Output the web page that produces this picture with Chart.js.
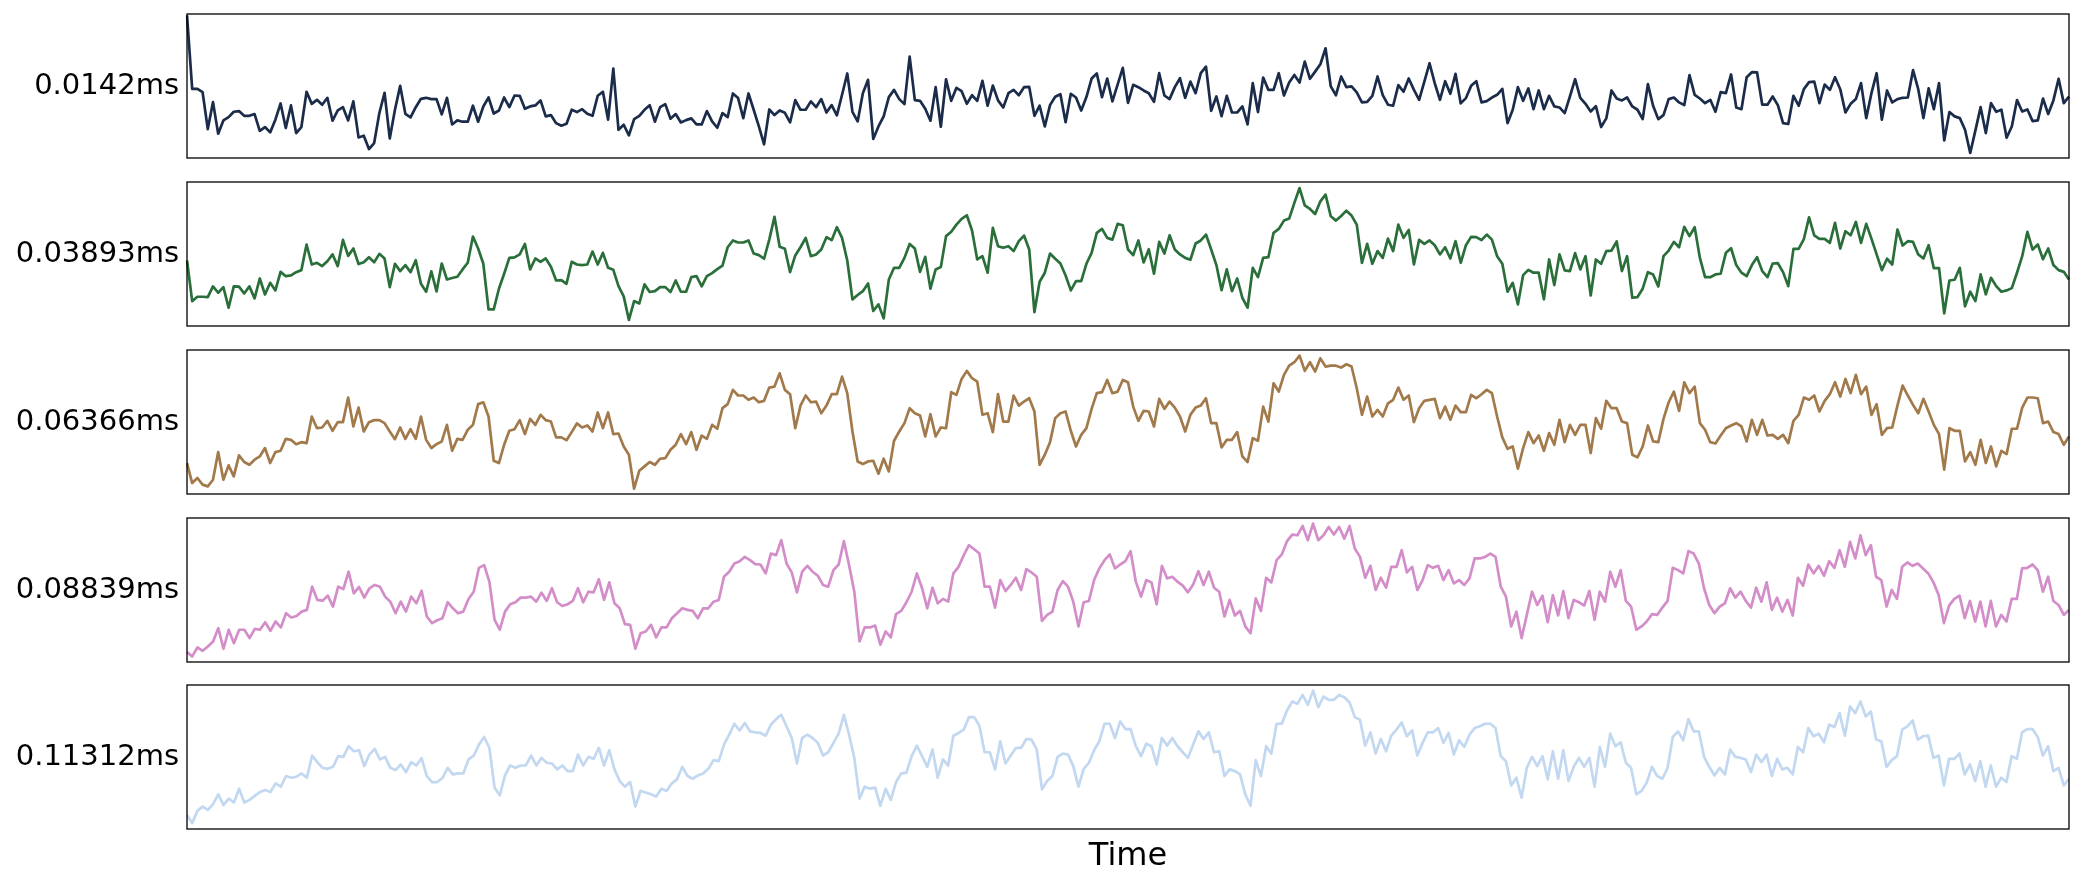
<!DOCTYPE html>
<html>
<head>
<meta charset="utf-8">
<script src="https://cdn.jsdelivr.net/npm/chart.js@4.4.1/dist/chart.umd.min.js"></script>
<style>
  html, body { margin: 0; padding: 0; background: #fff; }
  #wrap { position: relative; width: 2085px; height: 887px; overflow: hidden; }
  #wrap canvas { position: absolute; left: 0; }
</style>
</head>
<body>
<div id="wrap"></div>
<script>
// labels of each panel (time scale of the filter)
const scaleLabels = ["0.0142ms", "0.03893ms", "0.06366ms", "0.08839ms", "0.11312ms"];
const lineColors = ["#1b2b4a", "#2a6f3a", "#a2794a", "#d38dc9", "#c2d8f1"];
const xTitle = "Time";

// values (relative amplitude per panel)
const p1 = [
  99, 48.0, 48.0, 45.7, 20.1, 38.8, 16.9, 26.1, 28.4, 32.1, 32.6, 29.3, 29.3, 30.5, 18.9, 21.5, 17.8, 26.6, 37.9, 20.8,
  36.5, 17.3, 21.5, 46.0, 37.6, 40.4, 37.0, 41.8, 25.9, 33.0, 35.3, 26.1, 39.3, 14.3, 15.5, 6.2, 10.4, 31.2, 45.3, 13.6,
  33.5, 50.1, 30.7, 28.2, 35.3, 41.1, 41.8, 40.9, 40.9, 30.3, 41.8, 23.3, 26.1, 25.2, 25.2, 36.3, 25.2, 35.8, 42.0, 30.9,
  33.0, 42.0, 35.3, 43.4, 43.2, 34.2, 35.8, 36.5, 40.0, 28.9, 29.8, 24.2, 22.4, 23.8, 33.5, 31.9, 33.9, 30.7, 29.3, 43.2,
  46.0, 26.6, 62.1, 19.6, 23.1, 15.7, 27.0, 29.3, 33.5, 36.7, 25.2, 35.3, 37.4, 27.3, 30.5, 24.7, 26.3, 27.5, 23.3, 23.3,
  32.6, 25.4, 21.0, 31.2, 28.4, 44.8, 41.6, 27.7, 44.8, 33.5, 21.9, 9.5, 33.7, 29.8, 33.0, 31.4, 24.7, 40.2, 33.5, 33.5,
  39.3, 35.3,
  40.9, 31.6, 36.7, 29.6, 43.9, 58.7, 32.1, 25.4, 45.0, 54.3, 13.2, 21.9, 28.9, 42.3, 47.3, 40.9, 37.4, 70.4, 40.2, 39.7,
  34.2, 25.9, 49.2, 21.7, 54.7, 39.7, 48.7, 46.4, 37.6, 43.6, 39.7, 53.6, 36.3, 50.3, 40.0, 35.1, 45.0, 47.3, 43.6, 49.2,
  49.4, 29.3, 36.3, 21.9, 36.7, 42.5, 44.3, 24.9, 44.6, 42.0, 33.0, 42.3, 55.2, 58.7, 42.3, 55.2, 39.3, 51.0, 62.6, 38.3,
  50.8, 49.2, 46.9, 45.0, 39.0, 58.9, 43.4, 40.9, 49.2, 55.4, 41.8, 53.1, 45.0, 58.9, 63.5, 32.8, 42.7, 29.1, 43.2, 31.6,
  31.6, 35.8, 23.3, 52.0, 31.9, 55.9, 47.3, 47.3, 58.9, 43.4, 52.4, 57.7, 52.4, 67.0, 55.0, 60.0, 65.1, 76.2, 49.7, 43.6,
  56.6, 49.2, 49.7, 45.5, 38.6, 39.0, 43.2, 56.6, 43.6, 37.0, 36.3, 50.6, 46.0, 55.2, 47.3, 40.4, 53.1, 65.8, 52.0, 40.4,
  53.3,
  44.6, 58.4, 37.9, 41.6, 50.1, 53.3, 38.6, 39.5, 42.0, 43.9, 48.0, 24.2, 33.5, 49.2, 39.7, 48.3, 33.9, 46.9, 33.9, 43.2,
  35.8, 35.1, 31.2, 42.7, 54.7, 41.8, 37.6, 32.3, 36.0, 21.5, 27.5, 46.9, 41.3, 40.0, 42.0, 35.8, 33.5, 27.0, 51.3, 36.3,
  27.0, 29.8, 40.9, 42.0, 38.6, 36.7, 57.5, 43.9, 41.3, 38.1, 40.4, 32.1, 45.7, 45.0, 58.0, 35.1, 33.9, 56.1, 59.6, 59.4,
  37.0, 37.0, 42.7, 36.7, 24.2, 23.6, 43.2, 36.3, 47.8, 52.7, 53.1, 38.1, 51.0, 47.3, 56.1, 47.8, 31.6, 37.6, 40.9, 52.0,
  27.7, 45.0, 58.9, 26.6, 46.9, 38.6, 40.9, 41.8, 42.0, 61.0, 47.8, 27.7, 48.3, 33.9, 52.0, 12.2, 31.9, 28.9, 27.7, 19.6,
  3.5, 19.2, 35.3, 17.3, 38.1, 32.1, 33.5, 14.1, 21.9, 40.2, 32.3, 33.7, 25.6, 26.1, 41.3, 30.5, 40.0, 55.0, 38.1, 42.7
];

const p2 = [
  45.5, 17.3, 20.3, 20.3, 20.1, 27.5, 23.1, 27.0, 12.7, 27.5, 27.3, 22.6, 27.5, 19.2, 33.0, 21.9, 30.0, 24.7, 37.6, 34.6,
  35.1, 37.4, 38.8, 56.6, 42.7, 43.9, 41.6, 45.0, 49.7, 41.6, 59.8, 48.7, 53.8, 43.0, 44.3, 47.8, 44.3, 50.1, 46.9, 27.0,
  43.2, 38.1, 42.3, 37.4, 45.7, 29.3, 23.8, 37.9, 24.0, 43.4, 32.3, 33.3, 34.2, 39.3, 43.9, 62.1, 53.8, 43.2, 11.5, 11.5,
  25.9, 36.3, 47.3, 47.6, 49.7, 57.0, 39.3, 46.9, 44.6, 46.9, 41.1, 31.6, 31.9, 29.3, 44.6, 42.7, 42.3, 42.7, 51.7, 42.7,
  50.8, 40.4, 39.0, 27.7, 20.6, 4.2, 17.3, 15.7, 28.9, 23.6, 24.2, 27.0, 27.0, 23.6, 31.6, 23.8, 23.8, 33.9, 34.6, 27.5,
  34.6, 36.7, 39.5, 42.0, 54.7, 59.4, 58.0, 58.0, 59.4, 50.3, 49.2, 46.7, 60.0, 75.8, 55.0, 53.6, 37.4, 49.0, 54.7, 61.2,
  48.5, 49.7,
  53.1, 61.7, 59.6, 68.6, 61.2, 45.5, 18.5, 21.5, 24.2, 29.6, 10.4, 15.0, 5.3, 32.3, 40.4, 40.4, 47.3, 57.0, 53.8, 37.6,
  48.0, 25.9, 39.3, 40.9, 62.4, 65.4, 70.4, 74.4, 76.9, 66.3, 46.2, 48.5, 37.0, 68.1, 55.4, 54.3, 55.4, 52.0, 58.9, 62.8,
  53.1, 9.7, 30.7, 37.0, 50.3, 46.7, 43.4, 35.1, 24.7, 31.2, 31.2, 43.2, 50.8, 64.7, 67.4, 61.2, 60.0, 70.9, 70.0, 53.1,
  49.2, 59.4, 44.1, 53.3, 36.3, 58.4, 50.3, 63.0, 53.1, 49.7, 47.3, 46.0, 57.3, 59.4, 63.5, 53.1, 42.3, 24.9, 39.3, 24.2,
  33.0, 19.6, 12.7, 40.4, 33.9, 47.3, 47.8, 64.7, 67.4, 73.2, 74.6, 85.5, 95.8, 83.8, 81.3, 77.8, 86.6, 91.2, 76.2, 73.2,
  76.4, 80.1, 76.7, 70.4, 43.9, 57.0, 43.2, 52.0, 47.3, 60.7, 52.0, 70.4, 61.2, 66.7, 42.7, 59.8, 57.0, 59.4, 56.1, 49.7,
  54.7,
  46.9, 58.9, 43.9, 56.1, 61.9, 61.7, 59.6, 63.5, 60.0, 48.5, 43.2, 23.8, 30.0, 15.0, 35.3, 39.0, 37.0, 37.0, 18.5, 46.2,
  28.4, 49.7, 38.6, 38.1, 50.6, 39.3, 48.5, 21.2, 46.2, 43.2, 52.0, 52.4, 58.7, 38.1, 48.5, 19.6, 20.1, 25.9, 37.4, 35.8,
  27.5, 48.5, 52.4, 58.4, 54.7, 68.8, 62.4, 68.6, 47.3, 33.9, 33.9, 35.8, 36.3, 50.8, 54.0, 42.3, 37.0, 34.6, 42.3, 47.8,
  38.1, 33.9, 43.4, 43.6, 37.4, 27.7, 53.6, 53.6, 60.3, 75.5, 63.0, 60.5, 60.5, 57.7, 71.6, 53.8, 65.8, 63.0, 72.3, 57.7,
  70.9, 60.7, 49.7, 38.8, 46.7, 42.7, 67.0, 55.9, 58.9, 58.4, 49.7, 46.9, 56.1, 40.2, 40.2, 8.8, 31.6, 32.1, 40.4, 13.6,
  23.8, 17.3, 35.8, 21.9, 33.5, 27.7, 23.8, 24.7, 26.3, 37.0, 48.5, 65.4, 53.1, 56.6, 46.4, 53.8, 42.3, 38.8, 37.6, 32.3
];

const p3 = [
  21.5, 7.6, 11.1, 6.5, 5.3, 9.9, 29.1, 9.9, 19.9, 12.2, 26.8, 22.2, 20.3, 23.8, 26.1, 31.9, 21.5, 29.1, 30.0, 38.3,
  37.6, 34.6, 36.0, 35.3, 53.8, 45.7, 46.2, 50.8, 43.9, 49.9, 49.9, 67.0, 46.9, 60.0, 43.4, 49.9, 51.3, 51.3, 49.2, 43.4,
  38.1, 46.2, 38.3, 45.0, 38.3, 53.8, 37.6, 31.9, 34.6, 36.5, 48.0, 30.0, 38.3, 37.6, 44.6, 48.0, 62.4, 63.7, 53.8, 23.1,
  21.5, 34.2, 43.9, 45.0, 51.3, 41.6, 52.2, 48.0, 55.0, 51.3, 50.3, 39.3, 39.3, 37.4, 43.0, 49.0, 46.2, 47.6, 43.4, 56.6,
  45.7, 56.6, 41.6, 42.0, 33.0, 27.3, 3.7, 16.2, 19.2, 22.2, 20.3, 24.5, 24.9, 30.7, 34.2, 41.6, 34.6, 43.0, 30.7, 40.6,
  38.3, 48.0, 45.3, 59.6, 62.4, 72.3, 68.4, 68.4, 65.4, 67.0, 63.7, 64.7, 73.9, 74.6, 83.8, 72.3, 69.3, 45.7, 61.4, 68.4,
  63.7, 64.2, 56.1, 61.4, 69.3, 69.3, 81.5, 70.0, 43.4, 22.6, 20.8, 22.6, 23.1, 14.1, 24.5, 15.7, 37.0, 43.4, 49.2, 59.6,
  56.1, 54.5, 40.0, 55.4, 40.0, 46.2, 45.7, 70.7, 68.8, 79.9, 85.5, 80.4, 78.1, 55.0, 56.1, 43.0, 69.3, 50.3, 50.3, 68.4,
  61.4, 64.2, 66.5, 57.3, 20.3, 27.3, 36.0, 52.7, 56.1, 57.3, 43.9, 33.0, 41.1, 45.7, 59.1, 70.0, 70.7, 79.2, 70.0, 71.1,
  79.2, 77.6, 60.7, 50.8, 57.7,
  57.3, 46.9, 66.1, 59.1, 64.2, 60.0, 53.8, 43.4, 55.0, 60.0, 61.4, 66.5, 49.2, 49.2, 32.3, 37.6, 37.6, 43.0, 26.1, 22.2,
  38.8, 37.0, 60.7, 50.3, 76.9, 71.1, 82.7, 89.1, 91.5, 96.1, 85.5, 91.5, 85.0, 94.2, 88.5, 89.1, 89.1, 87.8, 90.1, 88.5,
  73.4, 55.0, 67.7, 53.8, 58.4, 53.8, 63.0, 65.4, 73.9, 65.4, 68.4, 49.9, 59.6, 64.7, 65.4, 66.1, 52.7, 60.7, 51.5, 61.4,
  56.8, 56.8, 68.8, 66.5, 69.3, 72.3, 70.0, 53.8, 39.3, 31.4, 33.0, 17.6, 31.9, 43.0, 35.3, 40.6, 30.0, 42.3, 34.2, 51.5,
  36.0, 48.0, 41.1, 48.0, 48.0, 28.4, 52.7, 45.3, 64.7, 59.6, 59.6, 50.3, 49.2, 27.3, 25.4, 33.0, 47.6, 36.5, 36.0, 52.2,
  63.7, 71.1, 57.7, 77.6, 70.0, 74.6, 49.2, 44.6, 36.0, 35.1, 40.6, 45.7, 47.6, 49.2, 46.9, 36.5, 51.5, 41.1, 51.5, 40.6,
  41.1, 38.3, 41.1, 35.3, 50.8, 55.0, 67.0, 65.4, 68.4, 57.3, 64.7, 69.3, 77.6, 67.7, 79.9, 70.0, 82.7, 69.3, 74.6, 55.0,
  62.4, 41.1, 45.7, 46.2, 61.4, 75.3, 68.4, 61.9, 56.1, 66.1, 57.3, 48.0, 41.6, 16.9, 45.7, 43.9, 43.9, 22.6, 29.1, 20.3,
  37.6, 21.5, 33.0, 19.2, 30.0, 27.7, 45.3, 45.3, 60.0, 67.0, 67.0, 66.5, 49.2, 50.3, 43.0, 41.6, 34.2, 40.0
];

const p4 = [
  6.9, 3.9, 10.1, 7.8, 10.8, 14.3, 23.5, 9.2, 22.4, 13.1, 22.4, 22.4, 16.6, 23.0, 22.4, 27.6, 21.7, 28.1, 24.0, 33.9,
  30.9, 32.0, 35.0, 36.2, 52.3, 43.1, 42.6, 46.1, 38.5, 52.3, 50.7, 62.7, 47.7, 52.1, 44.7, 51.2, 53.5, 52.3, 45.4, 41.9,
  33.9, 41.9, 35.0, 45.4, 40.8, 49.5, 31.6, 27.0, 29.0, 30.4, 41.5, 37.3, 33.9, 35.0, 43.8, 48.8, 65.4, 67.3, 55.8, 29.3,
  22.4, 35.0, 40.1, 41.5, 44.7, 44.7, 45.4, 41.9, 48.2, 42.4, 51.2, 41.5, 38.9, 40.1, 42.4, 51.2, 41.5, 48.8, 48.4, 57.4,
  43.1, 55.3, 40.8, 37.3, 26.3, 25.8, 9.2, 20.0, 21.2, 25.8, 17.1, 24.0, 24.0, 30.4, 33.9, 37.3, 36.2, 35.5, 30.4, 37.3,
  37.3, 41.9, 43.1, 59.2, 62.7, 68.4, 70.0, 73.0, 70.7, 68.0, 67.7, 61.5, 75.3, 74.2, 84.6, 68.4, 62.2, 48.4, 62.7, 66.8,
  62.7, 59.9, 53.5, 52.3, 63.8, 67.7, 83.9, 67.3, 48.8, 14.3, 24.0, 24.0, 25.3, 12.0, 21.2, 17.1, 33.2, 35.5, 41.5, 48.8,
  61.5, 51.2, 37.3, 51.6, 40.8, 43.8, 41.9, 61.5, 66.1, 74.2, 81.1, 78.3, 75.3, 52.3, 52.3, 37.8, 56.9, 49.3, 53.5, 58.5,
  50.0, 64.5, 62.2, 59.2, 28.6, 32.7, 35.0, 50.0, 56.2, 52.3, 41.9, 24.7, 41.5, 42.4, 56.9, 65.0, 70.7, 74.7, 65.0, 67.7,
  70.0, 77.0, 55.8, 45.4, 56.9,
  55.3, 40.1, 66.8, 58.1, 59.2, 55.8, 53.0, 48.4, 53.9, 63.1, 53.5, 62.7, 51.6, 48.8, 31.6, 43.1, 32.3, 35.5, 24.7, 20.0,
  44.2, 35.5, 58.5, 55.3, 70.7, 74.7, 83.9, 88.5, 88.0, 94.5, 84.6, 96.1, 84.6, 88.0, 93.8, 88.5, 93.8, 85.7, 94.5, 78.8,
  73.0, 58.5, 66.8, 50.0, 58.5, 51.6, 66.1, 66.1, 77.6, 62.2, 66.1, 50.0, 56.9, 67.3, 65.4, 66.8, 56.9, 63.8, 54.6, 56.9,
  53.5, 58.1, 71.9, 71.9, 73.0, 75.3, 73.0, 52.3, 45.4, 24.7, 35.0, 16.6, 32.7, 48.8, 39.6, 46.1, 27.6, 46.5, 32.3, 49.3,
  30.4, 43.1, 41.5, 39.2, 49.3, 29.3, 48.8, 41.9, 62.7, 52.3, 63.8, 42.4, 38.5, 22.4, 24.7, 28.1, 33.2, 32.7, 37.8, 42.4,
  65.4, 63.8, 61.5, 77.0, 75.3, 68.4, 51.2, 39.6, 33.9, 38.5, 40.8, 51.2, 44.7, 48.8, 42.4, 37.8, 51.6, 41.9, 55.3, 36.2,
  44.7, 35.0, 43.1, 32.3, 58.5, 53.0, 67.7, 61.5, 66.8, 59.9, 70.0, 65.4, 77.6, 66.1, 83.4, 71.9, 88.0, 74.2, 81.1, 59.2,
  56.9, 38.5, 50.0, 43.8, 66.1, 69.1, 66.8, 68.4, 65.0, 61.5, 55.3, 46.5, 27.0, 39.2, 43.8, 46.1, 30.4, 42.4, 28.1, 41.9,
  24.7, 42.4, 24.7, 32.7, 28.1, 43.8, 43.8, 65.0, 65.4, 67.7, 63.8, 48.8, 59.2, 42.4, 39.6, 32.7, 36.2
];

const p5 = [
  9.7, 4.1, 12.6, 15.6, 13.3, 17.2, 24.1, 16.6, 21.1, 18.4, 28.0, 18.4, 20.2, 23.0, 25.7, 27.1, 25.7, 31.7, 29.4, 36.8,
  35.6, 36.3, 38.6, 35.6, 51.0, 46.4, 42.5, 41.8, 43.2, 50.6, 50.1, 57.5, 54.0, 54.7, 43.7, 51.7, 55.6, 48.3, 50.1, 42.5,
  40.9, 44.8, 39.5, 46.4, 44.1, 49.2, 36.8, 32.6, 32.6, 35.4, 42.5, 37.9, 38.6, 38.6, 48.3, 51.0, 58.6, 63.9, 56.3, 28.7,
  23.4, 37.2, 44.1, 42.5, 44.1, 44.1, 51.0, 44.1, 49.4, 46.0, 45.5, 41.4, 44.1, 40.2, 40.2, 51.7, 44.1, 50.1, 48.7, 56.3,
  44.1, 54.7, 41.4, 33.3, 29.4, 32.6, 15.6, 26.4, 25.3, 24.1, 22.5, 28.0, 26.4, 31.7, 34.5, 43.2, 36.8, 34.9, 37.2, 38.6,
  41.8, 47.8, 47.1, 58.6, 65.5, 73.1, 68.5, 73.6, 67.8, 67.1, 66.7, 64.8, 72.4, 76.3, 79.3, 71.3, 63.2, 45.5, 63.2, 65.5,
  63.2, 59.8, 51.0, 53.3, 59.8, 66.2, 79.3, 65.5, 49.4, 21.1, 29.4, 28.0, 28.7, 16.1, 28.0, 20.2, 32.6, 38.6, 39.1, 50.6,
  57.9, 50.6, 43.2, 55.2, 35.6, 48.3, 44.1, 64.8, 66.7, 69.0, 77.7, 77.7, 71.7, 53.3, 53.3, 41.4, 60.9, 45.5, 51.0, 56.3,
  56.3, 62.5, 62.1, 55.2, 27.6, 33.3, 36.8, 50.1, 52.4, 51.7, 43.7, 29.4, 41.8, 46.0, 54.7, 60.9, 73.1, 73.1, 63.2, 74.7,
  69.4, 69.4, 57.5, 50.6, 59.3,
  57.5, 44.8, 63.2, 57.9, 63.2, 57.5, 53.3, 49.4, 58.6, 67.8, 62.5, 67.1, 53.3, 54.0, 36.8, 41.4, 40.2, 37.9, 24.1, 16.1,
  47.8, 36.8, 57.5, 52.4, 73.1, 73.1, 82.3, 88.5, 86.9, 93.1, 86.2, 96.1, 84.6, 92.0, 89.7, 89.7, 93.1, 91.5, 87.8, 77.7,
  75.9, 57.9, 67.1, 52.4, 62.5, 54.0, 64.8, 69.0, 74.0, 64.4, 68.5, 51.0, 59.8, 67.1, 67.1, 70.1, 59.8, 66.7, 51.7, 61.6,
  57.0, 65.5, 70.1, 71.3, 73.1, 73.1, 70.1, 50.6, 47.1, 30.3, 35.6, 21.8, 42.5, 50.1, 43.7, 50.6, 34.5, 54.0, 34.9, 54.7,
  33.3, 43.2, 49.4, 43.2, 49.4, 29.4, 57.0, 43.2, 66.2, 57.5, 60.2, 46.0, 42.5, 24.1, 26.4, 32.2, 43.2, 36.8, 34.9, 42.5,
  63.9, 67.8, 61.6, 76.3, 67.8, 67.8, 50.1, 43.2, 37.2, 42.5, 37.9, 55.2, 50.1, 49.4, 48.3, 39.5, 51.7, 46.4, 51.7, 36.8,
  48.7, 41.4, 42.5, 37.9, 57.0, 53.3, 70.1, 64.4, 66.2, 60.2, 72.4, 70.8, 80.5, 64.8, 85.1, 80.5, 88.5, 78.2, 81.6, 62.1,
  60.9, 43.2, 47.8, 50.6, 69.0, 71.3, 75.4, 62.1, 64.4, 64.8, 49.4, 51.0, 30.3, 48.7, 48.7, 52.4, 37.9, 44.8, 33.3, 47.1,
  29.4, 44.1, 29.4, 35.6, 32.6, 50.6, 48.7, 67.1, 69.4, 69.4, 63.9, 51.0, 57.5, 40.2, 42.5, 30.3, 34.9
];

const series = [p1, p2, p3, p4, p5];

// layout of the panels (px)
const W = 2085, H = 887;
const plotLeft = 187, plotRight = 2069;
const panelTops = [14, 182, 350, 518, 685];
const panelH = 144;
const pad = 24;
const fontFamily = "'DejaVu Sans', sans-serif";

// draws the box round each panel
const framePlugin = {
  id: "frame",
  afterDraw(chart) {
    const { ctx, chartArea: a } = chart;
    ctx.save();
    ctx.strokeStyle = "#000";
    ctx.lineWidth = 1.3;
    ctx.strokeRect(a.left, a.top, a.right - a.left, a.bottom - a.top);
    ctx.restore();
  },
};

function makePanel(i) {
  const values = series[i];
  const last = i === series.length - 1;
  const wrap = document.getElementById("wrap");
  const canvas = document.createElement("canvas");
  const top = panelTops[i] - pad;
  const height = last ? H - top : panelH + pad * 2;
  canvas.width = W;
  canvas.height = height;
  canvas.style.top = top + "px";
  wrap.appendChild(canvas);

  new Chart(canvas.getContext("2d"), {
    type: "line",
    data: {
      labels: values.map((_, k) => k),
      datasets: [
        {
          data: values,
          borderColor: lineColors[i],
          borderWidth: 2.7,
          borderJoinStyle: "round",
          pointRadius: 0,
          tension: 0,
          fill: false,
        },
      ],
    },
    options: {
      responsive: false,
      animation: false,
      devicePixelRatio: 1,
      layout: { padding: { top: pad, bottom: last ? 0 : pad, left: 0, right: W - plotRight } },
      plugins: { legend: { display: false }, tooltip: { enabled: false } },
      scales: {
        x: {
          display: last,
          grid: { display: false, drawTicks: false },
          border: { display: false },
          ticks: { display: false },
          title: {
            display: last,
            text: xTitle,
            color: "#000",
            font: { family: fontFamily, size: 32 },
            padding: { top: 0, bottom: 11 },
          },
          afterFit: (ax) => {
            // only the bottom panel keeps room for the "Time" title
            ax.height = last ? H - (panelTops[i] + panelH) : 0;
          },
        },
        y: {
          min: 0,
          max: 100,
          grid: { display: false, drawTicks: false },
          border: { display: false },
          ticks: {
            color: "#000",
            font: { family: fontFamily, size: 29 },
            padding: 8,
            callback: () => scaleLabels[i],
          },
          afterBuildTicks: (ax) => { ax.ticks = [{ value: 50 }]; },
          afterFit: (ax) => {
            ax.width = plotLeft;
            ax.paddingTop = 0;
            ax.paddingBottom = 0;
          },
        },
      },
    },
    plugins: [framePlugin],
  });
}

series.forEach((_, i) => makePanel(i));
</script>
</body>
</html>
